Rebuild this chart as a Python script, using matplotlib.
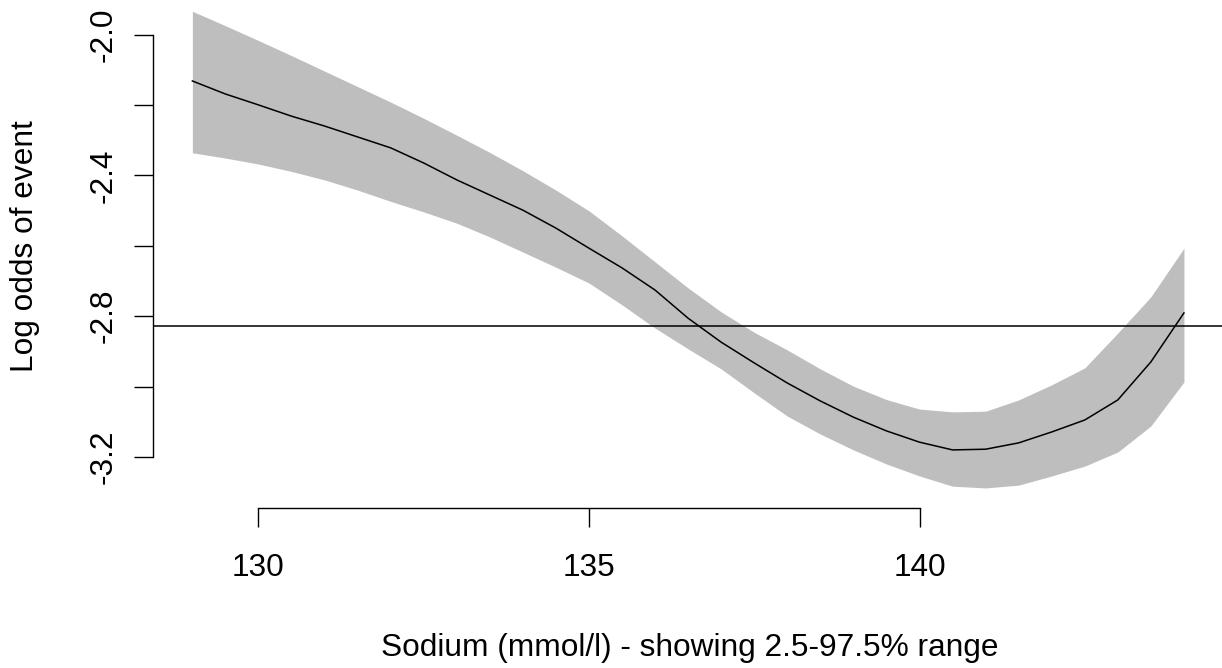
import numpy as np
import matplotlib
matplotlib.use("Agg")
import matplotlib.pyplot as plt

plt.rcParams['font.family'] = ['Liberation Sans', 'DejaVu Sans']

# sodium values (mmol/l)
sodium = [129, 129.5, 130, 130.5, 131, 131.5, 132, 132.5, 133, 133.5, 134, 134.5,
          135, 135.5, 136, 136.5, 137, 137.5, 138, 138.5, 139, 139.5,
          140, 140.5, 141, 141.5, 142, 142.5, 143, 143.5, 144]

# fitted log odds
fit = [-2.132, -2.169, -2.200, -2.232, -2.260, -2.291, -2.322, -2.365, -2.413,
       -2.456, -2.499, -2.550, -2.607, -2.663, -2.726, -2.806, -2.874, -2.933,
       -2.990, -3.041, -3.087, -3.126, -3.158, -3.180, -3.178, -3.160, -3.129,
       -3.095, -3.038, -2.930, -2.791]

# confidence band
upper = [-1.934, -1.975, -2.017, -2.060, -2.104, -2.148, -2.192, -2.238, -2.286,
         -2.335, -2.387, -2.442, -2.501, -2.572, -2.646, -2.720, -2.788, -2.846,
         -2.896, -2.950, -2.999, -3.037, -3.064, -3.072, -3.070, -3.038, -2.995,
         -2.947, -2.848, -2.745, -2.607]
lower = [-2.336, -2.351, -2.368, -2.389, -2.413, -2.442, -2.474, -2.504, -2.536,
         -2.575, -2.618, -2.661, -2.706, -2.768, -2.834, -2.893, -2.950, -3.018,
         -3.084, -3.135, -3.180, -3.220, -3.254, -3.283, -3.288, -3.280, -3.254,
         -3.226, -3.186, -3.112, -2.987]

ref_line = -2.828

xticks = [130, 135, 140]
yticks = [-3.2, -3.0, -2.8, -2.6, -2.4, -2.2, -2.0]
ylabels = ["-3.2", "", "-2.8", "", "-2.4", "", "-2.0"]

W, H = 1222, 668
fig = plt.figure(figsize=(W / 100, H / 100), dpi=100)
ax = fig.add_axes([152.7 / W, (H - 508) / H, (1223.6 - 152.7) / W, 508 / H])

ax.fill_between(sodium, lower, upper, color="#BEBEBE", linewidth=0)
ax.plot(sodium, fit, color="black", lw=1.1)
ax.axhline(ref_line, color="black", lw=1.1)

ax.set_xlim(128.4, 144.6)
ax.set_ylim(-3.345, -1.902)

for s in ["top", "right"]:
    ax.spines[s].set_visible(False)
ax.spines["left"].set_bounds(-3.2, -2.0)
ax.spines["bottom"].set_bounds(130, 140)
ax.spines["left"].set_linewidth(1.0)
ax.spines["bottom"].set_linewidth(1.0)

ax.set_xticks(xticks)
ax.set_xticklabels([str(t) for t in xticks])
ax.set_yticks(yticks)
ax.set_yticklabels(ylabels, rotation=90, va="center")
ax.tick_params(axis="both", length=13.7, width=1.0, labelsize=22.8)
ax.tick_params(axis="x", pad=19)
ax.tick_params(axis="y", pad=11)

fig.text(25 / W, 1 - 246 / H, "Log odds of event", rotation=90,
         ha="center", va="center", fontsize=22.8)
fig.text(690 / W, 1 - 648 / H, "Sodium (mmol/l) - showing 2.5-97.5% range",
         ha="center", va="center", fontsize=22.8)

fig.savefig("out.png", dpi=100)
